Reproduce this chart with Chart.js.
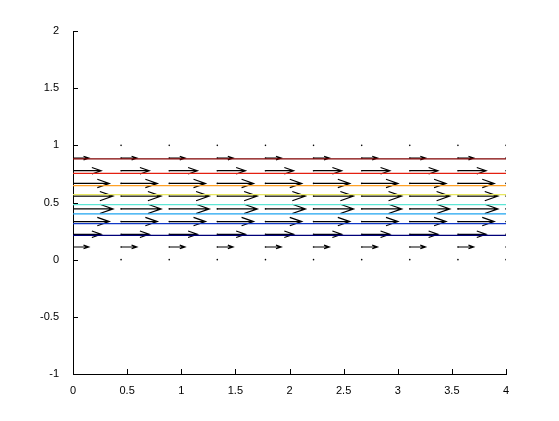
<!DOCTYPE html>
<html>
<head>
<meta charset="utf-8">
<script src="https://cdn.jsdelivr.net/npm/chart.js@4/dist/chart.umd.min.js"></script>
<style>
  body { margin: 0; background: #fff; }
  canvas { display: block; }
</style>
</head>
<body>
<canvas id="chart" width="559" height="421"></canvas>
<script>
// quiver grid
const gridX = [0, 0.444, 0.889, 1.333, 1.778, 2.222, 2.667, 3.111, 3.556, 4];
const gridY = [0, 0.111, 0.222, 0.333, 0.444, 0.556, 0.667, 0.778, 0.889, 1];
// arrow length (x units) for each row of gridY
const rowSpeed = [0, 0.145, 0.26, 0.335, 0.37, 0.37, 0.335, 0.26, 0.145, 0];

// contour lines
const contourLevels = [0.2125, 0.315, 0.40, 0.481, 0.569, 0.647, 0.755, 0.881];
const contourColors = ['#00007a', '#1038c8', '#1ea4f0', '#5ee6d6', '#e8e860', '#ffa024', '#e42010', '#800000'];

// axis ticks
const xTicks = [0, 0.5, 1, 1.5, 2, 2.5, 3, 3.5, 4];
const yTicks = [-1, -0.5, 0, 0.5, 1, 1.5, 2];

// arrowhead shape like matlab quiver
const headLen = 0.33;
const headWide = 0.33;

const gap = { x: NaN, y: NaN };
const arrowPts = [];
const dotPts = [];
gridY.forEach((y, j) => {
    const u = rowSpeed[j];
    gridX.forEach(x => {
        dotPts.push({ x: x, y: y });
        if (u <= 0) return;
        const tip = x + u;
        arrowPts.push({ x: x, y: y }, { x: tip, y: y }, gap);
        arrowPts.push(
            { x: tip - headLen * u, y: y + headLen * headWide * u },
            { x: tip, y: y },
            { x: tip - headLen * u, y: y - headLen * headWide * u },
            gap
        );
    });
});

const datasets = contourLevels.map((lev, i) => ({
    data: [{ x: 0, y: lev }, { x: 4, y: lev }],
    borderColor: contourColors[i],
    borderWidth: 1.2,
    pointRadius: 0,
    order: 0
}));
datasets.push({
    data: arrowPts,
    borderColor: '#000',
    borderWidth: 1.2,
    pointRadius: 0,
    spanGaps: false,
    clip: 0,
    order: 1
});
datasets.push({
    data: dotPts,
    showLine: false,
    pointRadius: 0.8,
    pointBorderWidth: 0,
    pointBackgroundColor: '#000',
    order: 2
});

// matlab style ticks pointing inward
const inwardTicks = {
    id: 'inwardTicks',
    afterDraw(chart) {
        const { ctx, chartArea } = chart;
        const xs = chart.scales.x, ys = chart.scales.y;
        ctx.save();
        ctx.strokeStyle = '#000';
        ctx.lineWidth = 1;
        ctx.beginPath();
        xTicks.forEach(v => {
            const px = Math.round(xs.getPixelForValue(v)) + 0.5;
            ctx.moveTo(px, chartArea.bottom);
            ctx.lineTo(px, chartArea.bottom - 5);
        });
        yTicks.forEach(v => {
            const py = Math.round(ys.getPixelForValue(v)) + 0.5;
            ctx.moveTo(chartArea.left, py);
            ctx.lineTo(chartArea.left + 5, py);
        });
        ctx.stroke();
        ctx.restore();
    }
};

const tickFont = { family: 'Liberation Sans, Arial, sans-serif', size: 11 };

new Chart(document.getElementById('chart').getContext('2d'), {
    type: 'line',
    data: { datasets: datasets },
    options: {
        responsive: false,
        animation: false,
        layout: { padding: { left: 0, top: 31, right: 53, bottom: 0 } },
        plugins: { legend: { display: false }, tooltip: { enabled: false } },
        scales: {
            x: {
                type: 'linear',
                min: 0,
                max: 4,
                afterBuildTicks: s => { s.ticks = xTicks.map(v => ({ value: v })); },
                afterFit: s => { s.height = 47; },
                grid: { display: false },
                border: { color: '#000', width: 1 },
                ticks: { color: '#000', font: tickFont, padding: 2, maxRotation: 0, callback: v => String(v) }
            },
            y: {
                type: 'linear',
                min: -1,
                max: 2,
                afterBuildTicks: s => { s.ticks = yTicks.map(v => ({ value: v })); },
                afterFit: s => { s.width = 73; },
                grid: { display: false },
                border: { color: '#000', width: 1 },
                ticks: { color: '#000', font: tickFont, padding: 6, callback: v => String(v) }
            }
        }
    },
    plugins: [inwardTicks]
});
</script>
</body>
</html>
